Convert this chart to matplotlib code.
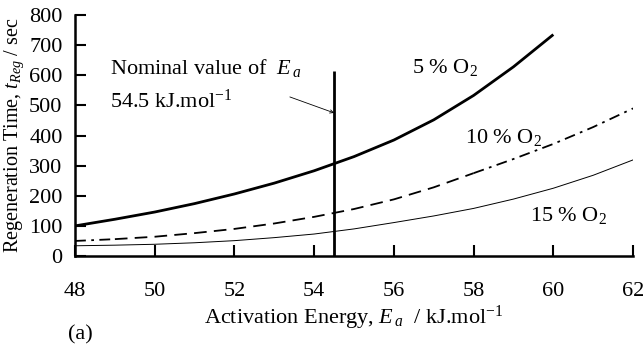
import matplotlib
matplotlib.use("Agg")
import matplotlib.pyplot as plt
import numpy as np

plt.rcParams['font.family'] = ['Liberation Serif', 'DejaVu Serif']
plt.rcParams['mathtext.fontset'] = 'custom'
plt.rcParams['mathtext.rm'] = 'Liberation Serif'
plt.rcParams['mathtext.it'] = 'Liberation Serif:italic'

# activation energy (kJ/mol) and regeneration time (s)
ea_5 = [48, 49, 50, 51, 52, 53, 54, 55, 56, 57, 58, 59, 60]
t_5 = [100, 122, 146, 174, 206, 242, 283, 330, 385, 452, 533, 628, 735]

ea_10 = [48, 49, 50, 51, 52, 53, 54, 55, 56, 57, 58, 59, 60, 61, 62]
t_10 = [50, 56, 64, 76, 90, 108, 130, 156, 188, 228, 275, 322, 372, 428, 490]

ea_15 = [48, 49, 50, 51, 52, 53, 54, 55, 56, 57, 58, 59, 60, 61, 62]
t_15 = [34, 36, 39, 44, 51, 61, 73, 90, 111, 133, 158, 189, 225, 268, 319]

nominal_ea = 54.5
line_top = 615

xticks = [48, 50, 52, 54, 56, 58, 60, 62]
yticks = [0, 100, 200, 300, 400, 500, 600, 700, 800]

fig = plt.figure(figsize=(6.44, 3.47), dpi=100)
ax = fig.add_axes([0.1165, 0.2622, 0.8665, 0.6946])

ax.plot(ea_5, t_5, color='black', lw=2.0, solid_capstyle='butt')

# 10 % curve: dash-dot at both ends, plain dashes in the middle
e10 = np.array(ea_10)
t10 = np.array(t_10)
m1 = e10 <= 49
m2 = (e10 >= 49) & (e10 <= 58)
m3 = e10 >= 58
ax.plot(e10[m1], t10[m1], color='black', lw=1.3, dashes=(6, 3, 1.5, 3))
ax.plot(e10[m2], t10[m2], color='black', lw=1.3, dashes=(7, 4))
ax.plot(e10[m3], t10[m3], color='black', lw=1.3, dashes=(6, 3, 1.5, 3))

ax.plot(ea_15, t_15, color='black', lw=0.7)

ax.vlines(nominal_ea, 0, line_top, color='black', lw=2.0)

ax.annotate('', xy=(nominal_ea, 475), xytext=(53.39, 528),
            arrowprops=dict(arrowstyle='->', color='black', lw=0.6,
                            shrinkA=0, shrinkB=0, mutation_scale=6))

ax.text(48.88, 625, r'Nominal value of  $E_{\,a}$', fontsize=16, va='center', ha='left')
ax.text(48.88, 515, r'54.5 kJ.mol$^{\mathregular{-1}}$', fontsize=16, va='center', ha='left')

ax.text(57.28, 625, r'5 % O$_{\mathregular{2}}$', fontsize=16, va='center', ha='center')
ax.text(58.74, 395, r'10 % O$_{\mathregular{2}}$', fontsize=16, va='center', ha='center')
ax.text(60.37, 133, r'15 % O$_{\mathregular{2}}$', fontsize=16, va='center', ha='center')

ax.set_xlim(48, 62)
ax.set_ylim(0, 800)
ax.set_xticks(xticks)
ax.set_yticks(yticks)
ax.tick_params(axis='x', direction='in', length=8, width=1.5, pad=19, labelsize=16)
ax.tick_params(axis='y', direction='in', length=8, width=1.5, pad=9, labelsize=16)
for s in ['top', 'right']:
    ax.spines[s].set_visible(False)
for s in ['left', 'bottom']:
    ax.spines[s].set_linewidth(1.8)

ax.set_xlabel(r'Activation Energy, $E_{\,a}$  / kJ.mol$^{\mathregular{-1}}$', fontsize=16, labelpad=2)
ax.set_ylabel(r'Regeneration Time, $t_{Reg}$ / sec', fontsize=14.5, labelpad=2)

fig.text(68 / 644, 1 - 335 / 347, '(a)', fontsize=16, ha='left', va='center')

fig.savefig('out.png', dpi=100)
